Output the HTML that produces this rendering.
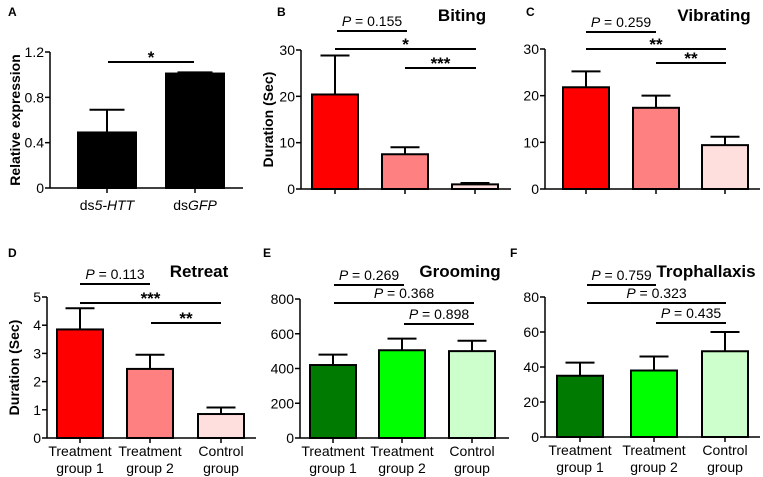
<!DOCTYPE html>
<html><head><meta charset="utf-8"><style>
body{margin:0;background:#fff;}
svg{display:block;font-family:"Liberation Sans",Arial,sans-serif;}
</style></head><body>
<svg id="fig" width="763" height="477" viewBox="0 0 763 477" xmlns="http://www.w3.org/2000/svg"></svg>
<script>
const aValues=[0.49,1.01];
const aErrors=[0.69,1.02];
const bValues=[20.4,7.5,1.0];
const bErrors=[28.8,9.0,1.3];
const cValues=[21.8,17.4,9.4];
const cErrors=[25.2,20.0,11.2];
const dValues=[3.85,2.45,0.85];
const dErrors=[4.6,2.95,1.08];
const eValues=[420,505,500];
const eErrors=[480,572,560];
const fValues=[35,38,49];
const fErrors=[42.5,46,60];
const aTicks=[0,0.4,0.8,1.2];
const bTicks=[0,10,20,30];
const dTicks=[0,1,2,3,4,5];
const eTicks=[0,200,400,600,800];
const fTicks=[0,20,40,60,80];
const redColors=['#ff0000','#ff8080','#ffdede'];
const greenColors=['#007a00','#00ff00','#ccffcc'];

const svg=document.getElementById('fig');
const NS='http://www.w3.org/2000/svg';
function el(tag,attrs,parent){const e=document.createElementNS(NS,tag);for(const k in attrs)e.setAttribute(k,attrs[k]);(parent||svg).appendChild(e);return e;}

const panels=[
 {id:'a',letter:'A',lx:8,ly:16,ax:50,yTop:52,yBot:188,xEnd:243,max:1.2,ticks:aTicks,tickFmt:v=>v===0?'0':v.toFixed(1),vals:aValues,errs:aErrors,centers:[107,195],bw:58,colors:['#000','#000'],ylabel:'Relative expression',ylx:15,
  sig:[{y:62,x1:108,x2:194,t:'*'}],xlabels:null},
 {id:'b',letter:'B',lx:277,ly:16,ax:301,yTop:50,yBot:189,xEnd:511,max:30,ticks:bTicks,tickFmt:v=>String(v),vals:bValues,errs:bErrors,centers:[335,405,475],bw:46,colors:redColors,ylabel:'Duration (Sec)',ylx:268,title:'Biting',tx:462,ty:21,
  sig:[{y:31,x1:337,x2:407,t:'P = 0.155'},{y:49,x1:335,x2:476,t:'*'},{y:68,x1:405,x2:476,t:'***'}]},
 {id:'c',letter:'C',lx:526,ly:16,ax:545,yTop:49,yBot:189,xEnd:760,max:30,ticks:bTicks,tickFmt:v=>String(v),vals:cValues,errs:cErrors,centers:[586,656,725],bw:46,colors:redColors,title:'Vibrating',tx:714,ty:21,
  sig:[{y:32,x1:586,x2:656,t:'P = 0.259'},{y:49,x1:586,x2:726,t:'**'},{y:63,x1:656,x2:726,t:'**'}]},
 {id:'d',letter:'D',lx:8,ly:257,ax:47,yTop:297,yBot:438,xEnd:256,max:5,ticks:dTicks,tickFmt:v=>String(v),vals:dValues,errs:dErrors,centers:[80,150,221],bw:46,colors:redColors,ylabel:'Duration (Sec)',ylx:14,title:'Retreat',tx:199,ty:277,
  sig:[{y:284,x1:80,x2:150,t:'P = 0.113'},{y:303,x1:80,x2:221,t:'***'},{y:323,x1:151,x2:221,t:'**'}],xlabels:true},
 {id:'e',letter:'E',lx:263,ly:257,ax:300,yTop:299,yBot:438,xEnd:509,max:800,ticks:eTicks,tickFmt:v=>String(v),vals:eValues,errs:eErrors,centers:[333,402,472],bw:46,colors:greenColors,title:'Grooming',tx:460,ty:277,
  sig:[{y:285,x1:334,x2:404,t:'P = 0.269'},{y:303,x1:334,x2:474,t:'P = 0.368'},{y:324,x1:404,x2:474,t:'P = 0.898'}],xlabels:true},
 {id:'f',letter:'F',lx:510,ly:257,ax:545,yTop:297,yBot:437,xEnd:760,max:80,ticks:fTicks,tickFmt:v=>String(v),vals:fValues,errs:fErrors,centers:[580,654,725],bw:46,colors:greenColors,title:'Trophallaxis',tx:706,ty:277,
  sig:[{y:285,x1:587,x2:656,t:'P = 0.759'},{y:303,x1:587,x2:726,t:'P = 0.323'},{y:323,x1:656,x2:726,t:'P = 0.435'}],xlabels:true}
];
const groupLabels=[['Treatment','group 1'],['Treatment','group 2'],['Control','group']];

panels.forEach(p=>{
  const g=el('g',{});
  
  
  const y=v=>p.yBot-(v/p.max)*(p.yBot-p.yTop);
  const L=el('text',{x:p.lx,y:p.ly,'font-size':12,'font-weight':'bold'},g);L.textContent=p.letter;
  
  p.vals.forEach((v,i)=>{
    const cx=p.centers[i],h=p.bw/2;
    const eb=el('line',{x1:cx,x2:cx,y1:y(v),y2:y(p.errs[i]),stroke:'#000','stroke-width':2},g);
    
    const cap=el('line',{x1:cx-h/2-3,x2:cx+h/2+3,y1:y(p.errs[i]),y2:y(p.errs[i]),stroke:'#000','stroke-width':2},g);
    
    const r=el('rect',{x:cx-h,y:y(v),width:p.bw,height:p.yBot-y(v),fill:p.colors[i],stroke:'#000','stroke-width':2},g);
    
    const tk=el('line',{x1:cx,x2:cx,y1:p.yBot,y2:p.yBot+5,stroke:'#000','stroke-width':1.5},g);
    
  });
  const ya=el('line',{x1:p.ax,x2:p.ax,y1:p.yTop,y2:p.yBot,stroke:'#000','stroke-width':1.5},g);
  
  const xa=el('line',{x1:p.ax,x2:p.xEnd,y1:p.yBot,y2:p.yBot,stroke:'#000','stroke-width':1.5},g);
  
  p.ticks.forEach(t=>{
    const tl=el('line',{x1:p.ax-5,x2:p.ax,y1:y(t),y2:y(t),stroke:'#000','stroke-width':1.5},g);
    
    const tt=el('text',{x:p.ax-6,y:y(t)+5,'font-size':14,'text-anchor':'end'},g);tt.textContent=p.tickFmt(t);
    
  });
  if(p.ylabel){
    const yc=(p.yTop+p.yBot)/2;
    const yl=el('text',{x:p.ylx,y:yc+5,'font-size':14,'font-weight':'bold','text-anchor':'middle',transform:`rotate(-90 ${p.ylx} ${yc})`},g);
    yl.textContent=p.ylabel;
    
  }
  if(p.title){
    const t=el('text',{x:p.tx,y:p.ty,'font-size':17,'font-weight':'bold','text-anchor':'middle'},g);t.textContent=p.title;
    
  }
  p.sig.forEach(s=>{
    const l=el('line',{x1:s.x1,x2:s.x2,y1:s.y,y2:s.y,stroke:'#000','stroke-width':2},g);
    
    const isP=s.t.startsWith('P');
    const t=el('text',{x:(s.x1+s.x2)/2,y:isP?s.y-5:s.y+1,'font-size':isP?14:17,'font-weight':isP?'normal':'bold','text-anchor':'middle'},g);
    if(isP){t.innerHTML='<tspan font-style="italic">P</tspan> = '+s.t.slice(4);}else t.textContent=s.t;
    
  });
  if(p.xlabels){
    groupLabels.forEach((gl,i)=>{
      const t=el('text',{x:p.centers[i],y:p.yBot+18,'font-size':14,'text-anchor':'middle'},g);
      t.innerHTML=`<tspan x="${p.centers[i]}">${gl[0]}</tspan><tspan x="${p.centers[i]}" dy="17">${gl[1]}</tspan>`;
      
    });
  }
  if(p.id==='a'){
    const t1=el('text',{x:107,y:210,'font-size':14,'text-anchor':'middle'},g);
    t1.innerHTML='ds<tspan font-style="italic">5-HTT</tspan>';
    
    const t2=el('text',{x:195,y:210,'font-size':14,'text-anchor':'middle'},g);
    t2.innerHTML='ds<tspan font-style="italic">GFP</tspan>';
    
  }
});
</script>
</body></html>
